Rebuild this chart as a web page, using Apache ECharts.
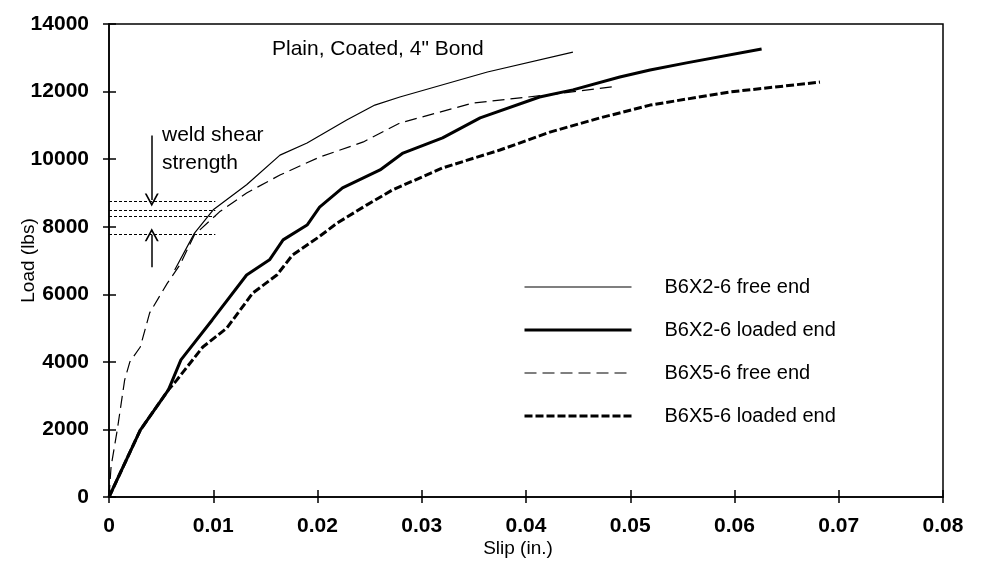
<!DOCTYPE html>
<html>
<head>
<meta charset="utf-8">
<script src="https://cdn.jsdelivr.net/npm/echarts@6/dist/echarts.min.js"></script>
<style>
html,body{margin:0;padding:0;background:#fff;}
#chart{width:982px;height:562px;}
</style>
</head>
<body>
<div id="chart"></div>
<script>
// ---- data ----
const xTickLabels = ['0', '0.01', '0.02', '0.03', '0.04', '0.05', '0.06', '0.07', '0.08'];
const yTickLabels = ['0', '2000', '4000', '6000', '8000', '10000', '12000', '14000'];

const seriesNames = ['B6X2-6 free end', 'B6X2-6 loaded end', 'B6X5-6 free end', 'B6X5-6 loaded end'];

const b6x2FreeSlip = [0.0063, 0.0082, 0.0100, 0.0132, 0.0164, 0.0190, 0.0228, 0.0255, 0.0279, 0.0363, 0.0445];
const b6x2FreeLoad = [6720, 7810, 8500, 9240, 10120, 10480, 11160, 11600, 11840, 12580, 13170];

const b6x2LoadedSlip = [0, 0.0030, 0.0057, 0.0069, 0.0099, 0.0132, 0.0154, 0.0167, 0.0190, 0.0202, 0.0224, 0.0260, 0.0282, 0.0320, 0.0356, 0.0413, 0.0445, 0.0490, 0.0519, 0.0554, 0.0626];
const b6x2LoadedLoad = [0, 1980, 3170, 4060, 5240, 6570, 7020, 7610, 8050, 8580, 9150, 9680, 10180, 10630, 11220, 11840, 12050, 12430, 12640, 12850, 13260];

const b6x5FreeSlip = [0, 0.0002, 0.0008, 0.0015, 0.0020, 0.0030, 0.0039, 0.0056, 0.0068, 0.0082, 0.0106, 0.0132, 0.0164, 0.0202, 0.0244, 0.0279, 0.0349, 0.0420, 0.0483];
const b6x5FreeLoad = [0, 900, 2000, 3460, 4000, 4440, 5450, 6330, 6870, 7760, 8440, 9000, 9530, 10060, 10510, 11070, 11660, 11900, 12140];

const b6x5LoadedSlip = [0, 0.0030, 0.0057, 0.0065, 0.0090, 0.0113, 0.0138, 0.0161, 0.0176, 0.0200, 0.0219, 0.0247, 0.0272, 0.0320, 0.0375, 0.0423, 0.0471, 0.0519, 0.0596, 0.0682];
const b6x5LoadedLoad = [0, 1980, 3170, 3460, 4440, 5000, 6040, 6570, 7160, 7670, 8110, 8640, 9090, 9740, 10270, 10800, 11220, 11600, 11990, 12280];

// weld shear strength annotation
const weldLevels = [8750, 8480, 8320, 7780];
const weldLineEndSlip = 0.0102;
const arrowSlip = 0.0041;
const arrowDownLoads = [10700, 8790];
const arrowUpLoads = [6800, 7760];

// ---- chart ----
function zip(xs, ys) { return xs.map((x, i) => [x, ys[i]]); }
const FONT = 'Liberation Sans, Arial, sans-serif';
const chevron = 'path://M0,12 L6,0 L12,12 L10.4,12 L6,3.2 L1.6,12 Z';

const gridRect = { left: 109, right: 39, top: 24, bottom: 65, containLabel: false, outerBoundsMode: 'none' };

const styles = [
  { width: 1.2, type: 'solid' },
  { width: 3, type: 'solid' },
  { width: 1.2, type: [12, 6] },
  { width: 3, type: [8, 3] }
];

const chart = echarts.init(document.getElementById('chart'), null, { renderer: 'canvas' });

const tickStyle = { color: '#000', width: 1.5 };

const option = {
  animation: false,
  backgroundColor: '#fff',
  grid: [
    Object.assign({ show: true, borderColor: '#000', borderWidth: 1.5, backgroundColor: 'transparent' }, gridRect),
    Object.assign({ show: false }, gridRect)
  ],
  xAxis: [
    {
      type: 'value', gridIndex: 0, min: 0, max: 0.08, interval: 0.01,
      axisLine: { show: true, onZero: false, lineStyle: { color: '#000', width: 1.5 } },
      axisTick: { show: true, length: 6, lineStyle: tickStyle },
      axisLabel: {
        color: '#000', fontFamily: FONT, fontWeight: 'bold', fontSize: 21, margin: 19,
        formatter: v => xTickLabels[Math.round(v / 0.01)]
      },
      splitLine: { show: false },
      name: 'Slip (in.)', nameLocation: 'middle', nameGap: 42, nameMoveOverlap: false,
      nameTextStyle: { color: '#000', fontFamily: FONT, fontSize: 19, padding: [0, 16, 0, 0] }
    },
    {
      type: 'value', gridIndex: 1, min: 0, max: 0.08, interval: 0.01,
      axisLine: { show: false },
      axisTick: { show: true, inside: true, length: 7, lineStyle: tickStyle },
      axisLabel: { show: false },
      splitLine: { show: false }
    }
  ],
  yAxis: [
    {
      type: 'value', gridIndex: 0, min: 0, max: 14000, interval: 2000,
      axisLine: { show: true, onZero: false, lineStyle: { color: '#000', width: 1.5 } },
      axisTick: { show: true, length: 6, lineStyle: tickStyle },
      axisLabel: {
        color: '#000', fontFamily: FONT, fontWeight: 'bold', fontSize: 21, margin: 20,
        formatter: v => yTickLabels[Math.round(v / 2000)]
      },
      splitLine: { show: false },
      name: 'Load (lbs)', nameLocation: 'middle', nameGap: 71, nameRotate: 90, nameMoveOverlap: false,
      nameTextStyle: { color: '#000', fontFamily: FONT, fontSize: 19 }
    },
    {
      type: 'value', gridIndex: 1, min: 0, max: 14000, interval: 2000,
      axisLine: { show: false },
      axisTick: { show: true, inside: true, length: 7, lineStyle: tickStyle },
      axisLabel: { show: false },
      splitLine: { show: false }
    }
  ],
  legend: {
    data: seriesNames.map((n, i) => ({
      name: n,
      itemStyle: { opacity: 0 },
      lineStyle: { color: '#000', width: styles[i].width, type: styles[i].type }
    })),
    orient: 'vertical',
    left: 523, top: 277,
    padding: 0,
    itemWidth: 107, itemHeight: 20, itemGap: 23,
    itemStyle: { opacity: 0 },
    textStyle: { color: '#000', fontFamily: FONT, fontSize: 20, padding: [0, 0, 0, 28] }
  },
  graphic: [
    {
      type: 'text', left: 272, top: 39,
      style: { text: 'Plain, Coated, 4" Bond', fill: '#000', font: '21px ' + FONT }
    },
    {
      type: 'text', left: 162, top: 121,
      style: { text: 'weld shear\nstrength', fill: '#000', font: '21px ' + FONT, lineHeight: 28 }
    }
  ],
  series: [
    {
      name: seriesNames[0], type: 'line', data: zip(b6x2FreeSlip, b6x2FreeLoad),
      symbol: 'none', smooth: false, color: '#000',
      lineStyle: Object.assign({ color: '#000' }, styles[0])
    },
    {
      name: seriesNames[1], type: 'line', data: zip(b6x2LoadedSlip, b6x2LoadedLoad),
      symbol: 'none', smooth: false, color: '#000',
      lineStyle: Object.assign({ color: '#000' }, styles[1])
    },
    {
      name: seriesNames[2], type: 'line', data: zip(b6x5FreeSlip, b6x5FreeLoad),
      symbol: 'none', smooth: false, color: '#000',
      lineStyle: Object.assign({ color: '#000' }, styles[2])
    },
    {
      name: seriesNames[3], type: 'line', data: zip(b6x5LoadedSlip, b6x5LoadedLoad),
      symbol: 'none', smooth: false, color: '#000',
      lineStyle: Object.assign({ color: '#000' }, styles[3])
    },
    {
      name: 'weld', type: 'line', data: [], symbol: 'none', silent: true,
      markLine: {
        silent: true, symbol: ['none', 'none'], label: { show: false },
        lineStyle: { color: '#000', width: 1.2, type: [3, 2] },
        data: weldLevels.map(l => [{ coord: [0, l] }, { coord: [weldLineEndSlip, l] }])
      }
    },
    {
      name: 'arrows', type: 'line', data: [], symbol: 'none', silent: true,
      markLine: {
        silent: true, symbol: ['none', chevron], symbolSize: [14, 13], label: { show: false },
        lineStyle: { color: '#000', width: 1.5, type: 'solid' },
        data: [
          [{ coord: [arrowSlip, arrowDownLoads[0]] }, { coord: [arrowSlip, arrowDownLoads[1]] }],
          [{ coord: [arrowSlip, arrowUpLoads[0]] }, { coord: [arrowSlip, arrowUpLoads[1]] }]
        ]
      }
    }
  ]
};
chart.setOption(option);
</script>
</body>
</html>
